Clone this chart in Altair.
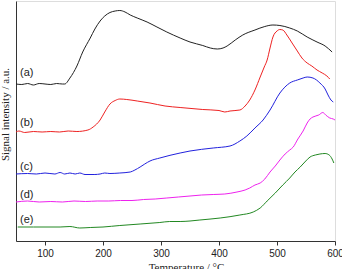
import altair as alt
import pandas as pd

# Temperature (°C) and signal (arbitrary units, stacked offsets) for each curve
temp_a = [50, 60, 70, 80, 90, 100, 110, 120, 130, 134, 143, 155, 165, 178, 186, 195, 203, 212, 221, 229, 238, 247, 259, 276, 293, 310, 333, 350, 372, 385, 397, 407, 414, 428, 441, 462, 479, 493, 505, 522, 535, 552, 569, 583, 595]
sig_a = [157, 156.5, 157.5, 156, 157.5, 157, 156.5, 157.5, 157, 157, 163, 175, 189, 203, 212, 220, 225, 228.5, 230, 230.5, 229, 226, 223, 219, 214, 209, 203, 199, 195.5, 193, 192, 193, 195, 201, 206, 211, 214.5, 216, 215.5, 213, 210, 204, 199, 195, 189]

temp_b = [50, 55, 65, 80, 95, 110, 125, 140, 155, 174, 183, 195, 203, 212, 221, 229, 241, 259, 281, 307, 333, 372, 400, 410, 419, 436, 445, 453, 462, 471, 478, 483, 488, 493, 500, 505, 510, 517, 526, 535, 543, 552, 560, 569, 578, 586, 591]
sig_b = [109, 110, 108.5, 109.5, 109, 109.5, 109, 110, 109.5, 111, 114, 121, 129, 137, 140.5, 142, 141.5, 140, 138, 135, 133.5, 131.5, 130.5, 129, 130, 131, 135, 141, 151, 164, 174, 181, 193, 204, 210, 211.5, 211, 206, 198, 190, 183, 178, 175, 171, 168, 165, 162]

temp_c = [50, 70, 85, 100, 117, 126, 134, 143, 152, 160, 169, 186, 195, 203, 212, 229, 247, 255, 264, 272, 281, 298, 333, 350, 390, 419, 436, 448, 462, 476, 488, 505, 522, 535, 545, 552, 562, 574, 583, 588, 593, 597]
sig_c = [67, 67.5, 67, 68, 67, 68.5, 67, 68, 67, 68, 66.5, 66.5, 67, 68, 67.5, 68, 69, 71, 74, 77, 80, 83, 88, 90, 93, 95, 100, 105, 113, 121, 131, 148, 158, 161, 163, 164, 163, 158, 152, 146, 141, 139]

temp_d = [50, 70, 90, 110, 130, 150, 170, 190, 210, 230, 250, 270, 290, 310, 330, 350, 370, 390, 410, 431, 445, 453, 462, 471, 479, 488, 497, 505, 514, 522, 528, 536, 545, 552, 557, 562, 572, 579, 584, 591, 597, 600]
sig_d = [39, 40, 39, 39.5, 39, 40, 39.5, 40, 40, 40.5, 40.5, 41.5, 42, 43, 44, 45, 46, 46.5, 47, 49, 51, 53, 56, 58, 62, 69, 75, 81, 87, 91, 94, 102, 110, 118, 122, 124, 126, 128.5, 126, 123, 122, 121]

temp_e = [53, 80, 100, 126, 143, 160, 178, 200, 229, 264, 298, 315, 333, 350, 367, 402, 436, 459, 471, 483, 497, 510, 522, 531, 540, 548, 557, 566, 574, 583, 590, 595, 598]
sig_e = [14, 14, 14, 14, 14.5, 13, 13.5, 14, 15.5, 17, 18.5, 19.5, 19.5, 20, 21, 23, 26, 29, 33, 40, 48, 56, 63, 69, 74, 79, 84, 86, 87, 87.5, 86, 82, 78]

series_names = ["a", "b", "c", "d", "e"]
series_colors = ["#222222", "#ee2222", "#2222dd", "#ee22ee", "#228822"]

label_texts = ["(a)", "(b)", "(c)", "(d)", "(e)"]
label_temp = [57, 57, 57, 57, 57]
label_sig = [168, 118, 74, 46, 21]

x_ticks = [100, 150, 200, 250, 300, 350, 400, 450, 500, 550, 600]

rows = []
for name, t, s in zip(series_names, [temp_a, temp_b, temp_c, temp_d, temp_e],
                      [sig_a, sig_b, sig_c, sig_d, sig_e]):
    for i, (tt, ss) in enumerate(zip(t, s)):
        rows.append({"series": name, "T": tt, "S": ss, "order": i})
df = pd.DataFrame(rows)

labels = pd.DataFrame({"text": label_texts, "T": label_temp, "S": label_sig})

xscale = alt.Scale(domain=[50, 600], nice=False, zero=False)
yscale = alt.Scale(domain=[0, 240], nice=False, zero=False)

lines = alt.Chart(df).mark_line(strokeWidth=1, interpolate="monotone").encode(
    x=alt.X("T:Q", scale=xscale, axis=alt.Axis(
        title="Temperature / °C", values=x_ticks,
        labelExpr="datum.value % 100 === 0 ? datum.label : ''",
        tickSize={"condition": {"test": "datum.value % 100 === 0", "value": 4}, "value": 2},
        labelFont="Liberation Sans", labelFontSize=10, labelColor="#222",
        labelPadding=3, labelFlush=False,
        titleFont="Liberation Serif", titleFontSize=11, titleFontWeight="normal",
        titleColor="#222", titleX=170, titleY=29, titleAlign="center",
        titleBaseline="alphabetic",
        grid=False, domainColor="#333", tickColor="#333")),
    y=alt.Y("S:Q", scale=yscale, axis=alt.Axis(
        title="Signal intensity / a.u.", labels=False, ticks=False, grid=False,
        domainColor="#333",
        titleFont="Liberation Serif", titleFontSize=11, titleFontWeight="normal",
        titleColor="#222", titleAngle=270, titleX=-8, titleY=113,
        titleAlign="center", titleBaseline="alphabetic")),
    color=alt.Color("series:N", scale=alt.Scale(domain=series_names, range=series_colors), legend=None),
    order="order:Q",
)

text = alt.Chart(labels).mark_text(
    align="left", baseline="middle", font="Liberation Sans", fontSize=11, color="#222"
).encode(
    x=alt.X("T:Q", scale=xscale),
    y=alt.Y("S:Q", scale=yscale),
    text="text:N",
)

chart = alt.layer(lines, text).properties(
    width=319, height=240,
    autosize=alt.AutoSizeParams(type="none"),
    padding={"left": 16, "top": 1, "right": 7, "bottom": 28},
).configure_view(stroke="#333", strokeWidth=1).configure(background="white")

chart.save("out.html", embed_options={"renderer": "svg", "actions": False})
